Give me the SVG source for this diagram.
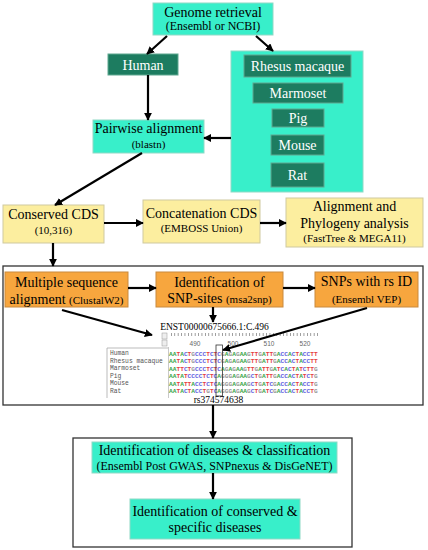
<svg xmlns="http://www.w3.org/2000/svg" width="428" height="550" viewBox="0 0 428 550" font-family="'Liberation Serif', 'Times New Roman', 'DejaVu Serif', serif">
<style>
text{font-family:'Liberation Serif','Times New Roman','DejaVu Serif',serif;text-anchor:middle;fill:#000}
.t14{font-size:14px}
.t12{font-size:12px}
.t11{font-size:11px}
.aq{fill:#38efca;stroke:#8fd9c6;stroke-width:1}
.dg{fill:#1d7c60;stroke:#5fa890;stroke-width:1}
.dgt{font-size:14px;fill:#fff}
.ye{fill:#fcee9f;stroke:#cfc9a0;stroke-width:1}
.or{fill:#f7a63e;stroke:#c98a3e;stroke-width:1}
.frame{fill:#fff;stroke:#333;stroke-width:1.3}
.conn line{stroke:#000;stroke-width:2.2;marker-end:url(#ah)}
text.seq{font-family:'Liberation Mono','Courier New',monospace;font-size:6.2px;font-weight:bold;text-anchor:start;fill:#999}
text.nm{font-family:'Liberation Mono','Courier New',monospace;font-size:6.3px;text-anchor:start;fill:#555}
.a{fill:#3aa64a}.t{fill:#e64040}.c{fill:#6060e0}
text.rl{font-family:'Liberation Sans',Arial,sans-serif;font-size:6.5px;fill:#666}
</style>
<defs>
<marker id="ah" viewBox="0 0 10 10" refX="9" refY="5" markerWidth="3.6" markerHeight="3.6" orient="auto" markerUnits="strokeWidth">
<path d="M0,0 L10,5 L0,10 Z" fill="#000"/>
</marker>
</defs>

<rect class="frame" x="3" y="266" width="420" height="139"/>
<rect class="frame" x="73" y="438" width="279" height="109"/>

<g id="genome">
<rect class="aq" x="153" y="3" width="120" height="32"/>
<text class="t14" x="213" y="17">Genome retrieval</text>
<text class="t12" x="213" y="30">(Ensembl or NCBI)</text>
</g>
<g id="human">
<rect class="dg" x="108" y="54" width="70" height="21"/>
<text class="dgt" x="143" y="70">Human</text>
</g>
<g id="species">
<rect class="aq" x="231" y="51" width="132" height="141"/>
<g id="rhesus"><rect class="dg" x="244" y="55" width="107" height="22"/><text class="dgt" x="297.5" y="71">Rhesus macaque</text></g>
<g id="marmoset"><rect class="dg" x="253" y="83" width="90" height="20"/><text class="dgt" x="298" y="98">Marmoset</text></g>
<g id="pig"><rect class="dg" x="272" y="109" width="52" height="18"/><text class="dgt" x="298" y="123">Pig</text></g>
<g id="mouse"><rect class="dg" x="271" y="135" width="53" height="20"/><text class="dgt" x="297.5" y="150">Mouse</text></g>
<g id="rat"><rect class="dg" x="271" y="163" width="53" height="24"/><text class="dgt" x="297.5" y="180">Rat</text></g>
</g>
<g id="pairwise">
<rect class="aq" x="93" y="120" width="111" height="33"/>
<text class="t14" x="148.5" y="133">Pairwise alignment</text>
<text class="t11" x="148.5" y="148">(blastn)</text>
</g>
<g id="conserved">
<rect class="ye" x="3" y="205" width="101" height="38"/>
<text class="t14" x="53.5" y="219">Conserved CDS</text>
<text class="t11" x="53.5" y="234">(10,316)</text>
</g>
<g id="concat">
<rect class="ye" x="143" y="200" width="117" height="43"/>
<text class="t14" x="201.5" y="218">Concatenation CDS</text>
<text class="t11" x="201.5" y="232">(EMBOSS Union)</text>
</g>
<g id="phylo">
<rect class="ye" x="286" y="198" width="137" height="49"/>
<text class="t14" x="354.5" y="211">Alignment and</text>
<text class="t14" x="354.5" y="228">Phylogeny analysis</text>
<text class="t11" x="354.5" y="242">(FastTree &amp; MEGA11)</text>
</g>
<g id="msa">
<rect class="or" x="5" y="272" width="123" height="35"/>
<text class="t14" x="66.5" y="287">Multiple sequence</text>
<text class="t14" x="66.5" y="304">alignment <tspan class="t11">(ClustalW2)</tspan></text>
</g>
<g id="snpsites">
<rect class="or" x="156" y="272" width="127" height="35"/>
<text class="t14" x="219.5" y="287">Identification of</text>
<text class="t14" x="219.5" y="303">SNP-sites <tspan class="t11">(msa2snp)</tspan></text>
</g>
<g id="rsid">
<rect class="or" x="315" y="272" width="103" height="35"/>
<text class="t14" x="366.5" y="286">SNPs with rs ID</text>
<text class="t11" x="366.5" y="303">(Ensembl VEP)</text>
</g>

<g id="alignment">
<text style="font-size:9.5px" x="214.5" y="330">ENST00000675666.1:C.496</text>
<rect x="162" y="333" width="5" height="6" fill="#eee" stroke="#999" stroke-width="0.5"/>
<rect x="162" y="340" width="5" height="6" fill="#eee" stroke="#999" stroke-width="0.5"/>
<line x1="171" y1="334.5" x2="320" y2="334.5" stroke="#777" stroke-width="3" stroke-dasharray="0.7 2.7"/>
<text class="rl" x="195" y="346">490</text>
<text class="rl" x="233" y="346">500</text>
<text class="rl" x="269" y="346">510</text>
<text class="rl" x="305" y="346">520</text>
<path d="M107,398 V348 H168" fill="none" stroke="#aaa" stroke-width="0.8"/>
<line x1="168.5" y1="347" x2="168.5" y2="398" stroke="#bbb" stroke-width="0.8"/>
<text class="nm" x="110" y="355">Human</text>
<text class="nm" x="110" y="362.5">Rhesus macaque</text>
<text class="nm" x="110" y="370">Marmoset</text>
<text class="nm" x="110" y="377.5">Pig</text>
<text class="nm" x="110" y="385">Mouse</text>
<text class="nm" x="110" y="392.5">Rat</text>
<text class="seq" x="169" y="355.5"><tspan class="a">AA</tspan><tspan class="t">T</tspan><tspan class="a">A</tspan><tspan class="c">C</tspan><tspan class="t">T</tspan>G<tspan class="c">CCC</tspan><tspan class="t">T</tspan><tspan class="c">C</tspan><tspan class="t">T</tspan><tspan class="c">C</tspan>G<tspan class="a">A</tspan>G<tspan class="a">A</tspan>G<tspan class="a">AA</tspan>G<tspan class="t">TT</tspan>G<tspan class="a">A</tspan><tspan class="t">TT</tspan>G<tspan class="a">A</tspan><tspan class="c">CC</tspan><tspan class="a">A</tspan><tspan class="c">C</tspan><tspan class="t">T</tspan><tspan class="a">A</tspan><tspan class="c">CC</tspan><tspan class="t">TT</tspan></text>
<text class="seq" x="169" y="363"><tspan class="a">AA</tspan><tspan class="t">T</tspan><tspan class="a">A</tspan><tspan class="c">C</tspan><tspan class="t">T</tspan>G<tspan class="c">CCC</tspan><tspan class="t">T</tspan><tspan class="c">C</tspan><tspan class="t">T</tspan><tspan class="c">C</tspan>G<tspan class="a">A</tspan>G<tspan class="a">A</tspan>G<tspan class="a">AA</tspan>G<tspan class="t">TT</tspan>G<tspan class="a">A</tspan><tspan class="t">TT</tspan>G<tspan class="a">A</tspan><tspan class="c">CC</tspan><tspan class="a">A</tspan><tspan class="c">C</tspan><tspan class="t">T</tspan><tspan class="a">A</tspan><tspan class="c">CC</tspan><tspan class="t">TT</tspan></text>
<text class="seq" x="169" y="370.5"><tspan class="a">AA</tspan><tspan class="t">TT</tspan><tspan class="c">C</tspan><tspan class="t">T</tspan>G<tspan class="c">CCC</tspan><tspan class="t">T</tspan><tspan class="c">C</tspan><tspan class="t">T</tspan><tspan class="c">C</tspan><tspan class="a">A</tspan>G<tspan class="a">A</tspan>G<tspan class="a">AA</tspan>G<tspan class="t">TT</tspan>G<tspan class="a">A</tspan><tspan class="t">TT</tspan>G<tspan class="a">A</tspan><tspan class="t">T</tspan><tspan class="c">C</tspan><tspan class="a">A</tspan><tspan class="c">C</tspan><tspan class="t">T</tspan><tspan class="a">A</tspan><tspan class="t">T</tspan><tspan class="c">C</tspan><tspan class="t">TT</tspan>G</text>
<text class="seq" x="169" y="378"><tspan class="a">AA</tspan><tspan class="t">T</tspan><tspan class="a">A</tspan><tspan class="t">T</tspan><tspan class="c">CCCC</tspan><tspan class="t">T</tspan><tspan class="c">C</tspan><tspan class="t">T</tspan><tspan class="c">C</tspan><tspan class="a">A</tspan>GGG<tspan class="a">A</tspan>G<tspan class="a">AA</tspan>G<tspan class="c">C</tspan><tspan class="t">T</tspan>G<tspan class="a">A</tspan><tspan class="t">TT</tspan>G<tspan class="a">A</tspan><tspan class="c">CC</tspan><tspan class="a">A</tspan><tspan class="c">C</tspan><tspan class="t">T</tspan><tspan class="a">A</tspan><tspan class="t">T</tspan><tspan class="c">C</tspan><tspan class="t">T</tspan>G</text>
<text class="seq" x="169" y="385.5"><tspan class="a">AA</tspan><tspan class="t">T</tspan><tspan class="a">A</tspan><tspan class="t">TT</tspan><tspan class="a">A</tspan><tspan class="c">CC</tspan><tspan class="t">T</tspan><tspan class="c">C</tspan><tspan class="t">T</tspan><tspan class="c">C</tspan><tspan class="a">A</tspan>GGG<tspan class="a">A</tspan>G<tspan class="a">AA</tspan>G<tspan class="c">C</tspan><tspan class="t">T</tspan>G<tspan class="a">A</tspan><tspan class="t">T</tspan><tspan class="c">C</tspan>G<tspan class="a">A</tspan><tspan class="c">CC</tspan><tspan class="a">A</tspan><tspan class="c">C</tspan><tspan class="t">T</tspan><tspan class="a">A</tspan><tspan class="c">CC</tspan><tspan class="t">T</tspan>G</text>
<text class="seq" x="169" y="393"><tspan class="a">AA</tspan><tspan class="t">T</tspan><tspan class="a">A</tspan><tspan class="c">C</tspan><tspan class="t">T</tspan><tspan class="a">A</tspan><tspan class="c">CC</tspan><tspan class="t">T</tspan>G<tspan class="t">T</tspan><tspan class="c">C</tspan><tspan class="a">A</tspan>GGG<tspan class="a">A</tspan>G<tspan class="a">AA</tspan>G<tspan class="c">C</tspan><tspan class="t">T</tspan>G<tspan class="a">A</tspan><tspan class="t">T</tspan><tspan class="c">C</tspan>G<tspan class="a">A</tspan><tspan class="c">CC</tspan><tspan class="a">A</tspan><tspan class="c">C</tspan><tspan class="t">T</tspan><tspan class="a">A</tspan><tspan class="c">CC</tspan><tspan class="t">T</tspan>G</text>
<rect x="216" y="345" width="6.5" height="51" fill="none" stroke="#333" stroke-width="0.8"/>
<text style="font-size:9.5px" x="218.5" y="403">rs374574638</text>
</g>

<g id="diseases">
<rect class="aq" x="92" y="442" width="245" height="31"/>
<text class="t14" x="214.5" y="455">Identification of diseases &amp; classification</text>
<text class="t12" x="214.5" y="470">(Ensembl Post GWAS, SNPnexus &amp; DisGeNET)</text>
</g>
<g id="specific">
<rect class="aq" x="130" y="499" width="170" height="40"/>
<text class="t14" x="215" y="516">Identification of conserved &amp;</text>
<text class="t14" x="215" y="532">specific diseases</text>
</g>

<g class="conn" id="connectors">
<line x1="167" y1="36" x2="147" y2="54"/>
<line x1="256" y1="36" x2="273" y2="51"/>
<line x1="148" y1="75" x2="148" y2="120"/>
<line x1="231" y1="138" x2="204" y2="138"/>
<line x1="142" y1="153" x2="55" y2="205"/>
<line x1="104" y1="223" x2="143" y2="223"/>
<line x1="260" y1="223" x2="286" y2="223"/>
<line x1="53" y1="243" x2="53" y2="266"/>
<line x1="128" y1="288" x2="156" y2="288"/>
<line x1="283" y1="288" x2="315" y2="288"/>
<line x1="62" y1="310" x2="152" y2="335"/>
<line x1="213" y1="307" x2="213" y2="322"/>
<line x1="367" y1="308" x2="223" y2="350"/>
<line x1="213" y1="405" x2="213" y2="438"/>
<line x1="213" y1="473" x2="213" y2="499"/>
</g>
</svg>
